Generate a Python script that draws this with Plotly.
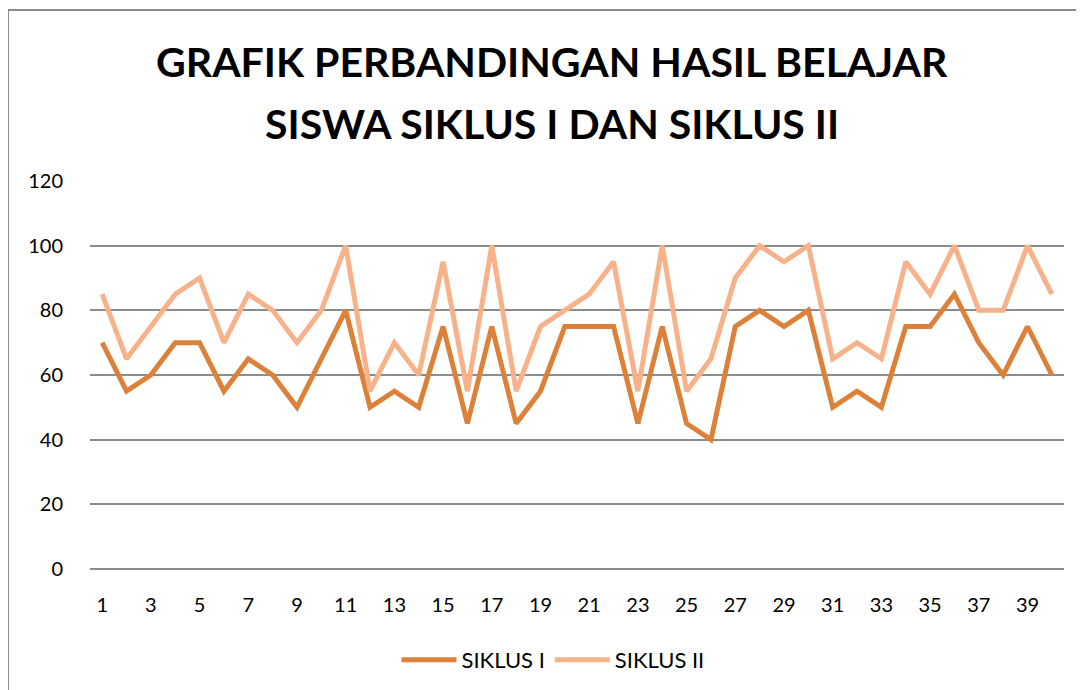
import plotly.graph_objects as go

students = list(range(1, 41))
siklus_1 = [70, 55, 60, 70, 70, 55, 65, 60, 50, 65, 80, 50, 55, 50, 75, 45, 75, 45, 55, 75,
            75, 75, 45, 75, 45, 40, 75, 80, 75, 80, 50, 55, 50, 75, 75, 85, 70, 60, 75, 60]
siklus_2 = [85, 65, 75, 85, 90, 70, 85, 80, 70, 80, 100, 55, 70, 60, 95, 55, 100, 55, 75, 80,
            85, 95, 55, 100, 55, 65, 90, 100, 95, 100, 65, 70, 65, 95, 85, 100, 80, 80, 100, 85]
y_ticks = [0, 20, 40, 60, 80, 100, 120]
x_ticks = list(range(1, 41, 2))
title_lines = ["GRAFIK PERBANDINGAN HASIL BELAJAR", "SISWA SIKLUS I DAN SIKLUS II"]

FONT = "Lato"
OFF = 8  # page body margin offset
W, H = 1084, 690
L, T = 90 - OFF, 181 - OFF
R = W - (1064 - OFF)
B = H - (569 - OFF)
pw, ph = W - L - R, H - T - B
GRID = "#8C8C8C"

def px(p):
    return (p - OFF - L) / pw

def py(p):
    return (H - B - (p - OFF)) / ph

fig = go.Figure()
fig.add_trace(go.Scatter(x=students, y=siklus_1, mode="lines", name="SIKLUS I",
                         line=dict(color="#DC8139", width=5)))
fig.add_trace(go.Scatter(x=students, y=siklus_2, mode="lines", name="SIKLUS II",
                         line=dict(color="#F7B28A", width=5)))

fig.update_layout(
    width=W, height=H,
    margin=dict(l=L, r=R, t=T, b=B),
    paper_bgcolor="white", plot_bgcolor="white",
    font=dict(family=FONT, color="#000000", size=20),
    xaxis=dict(range=[0.5, 40.5], tickmode="array", tickvals=x_ticks,
               ticktext=[str(v) for v in x_ticks], showgrid=False, zeroline=False,
               showline=False, ticks="", ticklen=0, tickfont=dict(size=20),
               ticklabelstandoff=22),
    yaxis=dict(range=[0, 120], tickmode="array", tickvals=y_ticks, showgrid=True,
               gridcolor=GRID, gridwidth=2, zeroline=True, zerolinecolor=GRID,
               zerolinewidth=2, showline=False, layer="below traces",
               ticks="", tickfont=dict(size=20), ticklabelstandoff=26),
    legend=dict(orientation="h", x=px(553), xanchor="center", y=py(660), yanchor="middle",
                font=dict(size=22), itemwidth=55, tracegroupgap=0),
    showlegend=True,
)

for text, yc in zip(title_lines, [62, 123]):
    fig.add_annotation(text=f"<b>{text}</b>", xref="paper", yref="paper",
                       x=px(552), y=py(yc), xanchor="center", yanchor="middle",
                       showarrow=False, font=dict(family=FONT, size=41, color="#000000"))

fig.add_shape(type="rect", xref="paper", yref="paper",
              x0=px(8), x1=px(1100), y0=py(10), y1=py(710),
              line=dict(color=GRID, width=2), fillcolor="rgba(0,0,0,0)", layer="below")

fig.write_html("out.html")
